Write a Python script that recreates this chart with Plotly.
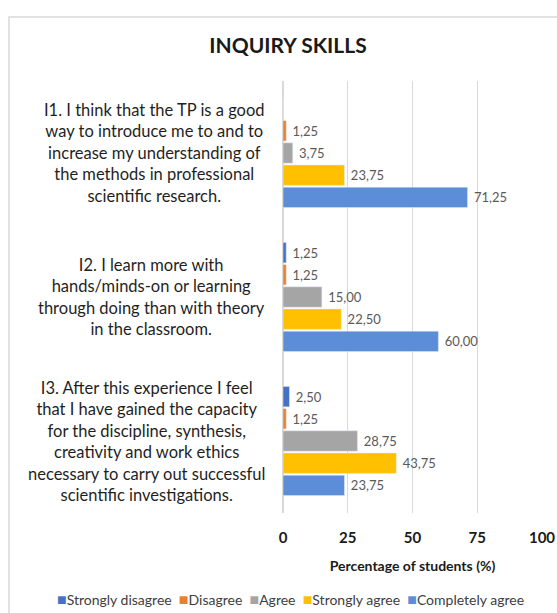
import plotly.graph_objects as go

# questions (y categories) and their long labels
questions = ["I1", "I2", "I3"]
question_text = [
    "I1. I think that the TP is a good<br>way to introduce me to and to<br>increase my understanding of<br>the methods in professional<br>scientific research.",
    "I2. I learn more with<br>hands/minds-on or learning<br>through doing than with theory<br>in the classroom.",
    "I3. After this experience I feel<br>that I have gained the capacity<br>for the discipline, synthesis,<br>creativity and work ethics<br>necessary to carry out successful<br>scientific investigations.",
]

# percentage of students per answer
strongly_disagree = [0, 1.25, 2.50]
disagree = [1.25, 1.25, 1.25]
agree = [3.75, 15.00, 28.75]
strongly_agree = [23.75, 22.50, 43.75]
completely_agree = [71.25, 60.00, 23.75]

x_ticks = [0, 25, 50, 75, 100]

series = [
    ("Strongly disagree", strongly_disagree, "#4472C4"),
    ("Disagree", disagree, "#ED7D31"),
    ("Agree", agree, "#A5A5A5"),
    ("Strongly agree", strongly_agree, "#FFC000"),
    ("Completely agree", completely_agree, "#5B8ED6"),
]

FONT = "Lato"
W, H = 557, 613
ML, MR, MT, MB = 283, 15, 81, 100
pw, ph = W - ML - MR, H - MT - MB


def fmt(v):
    # comma decimal, hide zero values like the original
    return "&nbsp;" + f"{v:.2f}".replace(".", ",") if v else ""


fig = go.Figure()
for name, vals, color in series:
    fig.add_trace(go.Bar(
        y=questions, x=vals, name=name, orientation="h",
        marker=dict(color=color),
        text=[fmt(v) for v in vals], textposition="outside",
        constraintext="none",
        textfont=dict(size=13, color="#595959", family=FONT),
        cliponaxis=False,
    ))

for q, txt in zip(questions, question_text):
    fig.add_annotation(
        x=-16 / pw, xref="paper", y=q, yref="y",
        xanchor="right", yanchor="middle", align="center",
        text=txt, showarrow=False,
        font=dict(size=16.5, color="#1f1f1f", family=FONT),
    )

# hand-made legend line: small coloured squares + names
legend_txt = "&nbsp;&nbsp;".join(
    f"<span style='color:{c};font-size:16px'>■</span>{n}" for n, _, c in series
)
fig.add_annotation(
    x=(290 - ML) / pw, xref="paper", y=-(598 - (H - MB)) / ph, yref="paper",
    text=legend_txt, showarrow=False, xanchor="center", yanchor="middle",
    font=dict(size=14, color="#404040", family=FONT),
)

# chart area border
fig.add_shape(
    type="rect", xref="paper", yref="paper",
    x0=(9 - ML) / pw, x1=(W + 5 - ML) / pw,
    y0=-(H + 5 - MT - ph) / ph, y1=1 + (MT - 17) / ph,
    line=dict(color="#D9D9D9", width=1.5), fillcolor="rgba(0,0,0,0)",
    layer="below",
)

fig.update_layout(
    width=W, height=H,
    margin=dict(l=ML, r=MR, t=MT, b=MB, autoexpand=False),
    paper_bgcolor="white", plot_bgcolor="white",
    barmode="group", bargap=0.23, bargroupgap=0.08,
    font=dict(family=FONT, color="#262626"),
    title=dict(text="<b>INQUIRY SKILLS</b>", x=288 / W, xanchor="center",
               y=1 - 46 / H, yanchor="middle",
               font=dict(size=21, color="#1a1a1a", family=FONT)),
    xaxis=dict(
        range=[0, 100], tickvals=x_ticks,
        ticktext=[f"<b>{t}</b>" for t in x_ticks],
        tickfont=dict(size=15, color="#1a1a1a"),
        showgrid=True, gridcolor="#D9D9D9", gridwidth=1,
        zeroline=True, zerolinecolor="#D9D9D9", showline=False,
        ticklabelstandoff=14,
        title=dict(text="<b>Percentage of students (%)</b>",
                   font=dict(size=14, color="#1a1a1a"), standoff=16),
    ),
    yaxis=dict(
        autorange="reversed", showticklabels=False, showgrid=False,
        zeroline=False, showline=False,
    ),
    showlegend=False,
)

# drop the default page margin so the figure sits at the window origin
fig.write_html("out.html", config={"displayModeBar": False},
               post_script="document.body.style.margin='0';")
